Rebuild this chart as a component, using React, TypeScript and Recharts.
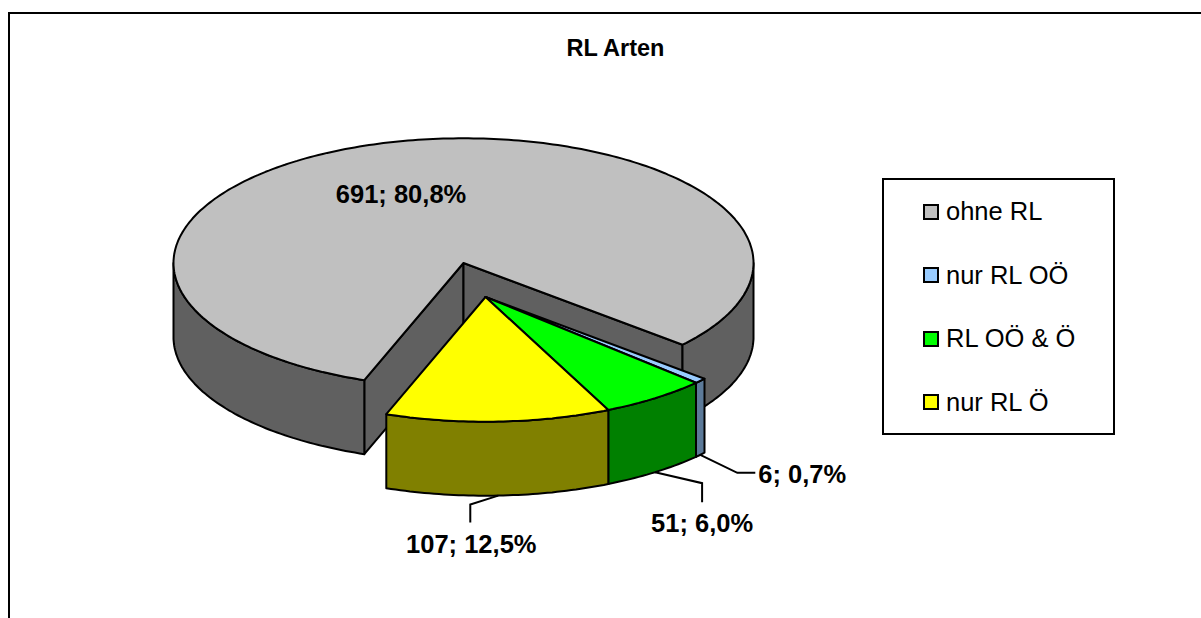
import { Legend, Pie, PieChart } from "recharts";

const NAMES = ["ohne RL", "nur RL OÖ", "RL OÖ & Ö", "nur RL Ö"];
const VALUES = [691, 6, 51, 107];
const TOP_COLORS = ["#c0c0c0", "#99ccff", "#00ff00", "#ffff00"];
const WALL_COLORS = ["#606060", "#5c7a99", "#008000", "#808000"];

const data = NAMES.map((name, i) => ({
  name,
  value: VALUES[i],
  fill: TOP_COLORS[i],
  wall: WALL_COLORS[i],
}));

const CX = 463.5;
const CY = 263;
const RADIUS = 290;
const SQUASH = 0.43; // ellipse height / width
const DEPTH = 74;
const START_ANGLE = -110;
// small slices are pulled out of the pie as one group
const EXPLODE_X = 22;
const EXPLODE_Y = 34;
const FONT = "'Liberation Sans', Arial, sans-serif";

// leader line elbows + label anchor, relative to the slice's lower edge
const LEADERS: Record<number, { pts: number[][]; tx: number; ty: number; anchor: string }> = {
  1: { pts: [[37, 18], [55, 18]], tx: 58, ty: 28, anchor: "start" },
  2: { pts: [[47, 11], [47, 30]], tx: 47, ty: 60, anchor: "middle" },
  3: { pts: [[-28, 9], [-28, 27]], tx: -27, ty: 57, anchor: "middle" },
};

const rad = (d: number) => (d * Math.PI) / 180;

const point = (cx: number, cy: number, r: number, deg: number) => [
  cx + r * Math.cos(rad(deg)),
  cy - r * SQUASH * Math.sin(rad(deg)),
];

const arcPoints = (cx: number, cy: number, r: number, from: number, to: number) => {
  const n = Math.max(2, Math.ceil(Math.abs(from - to)));
  const pts: number[][] = [];
  for (let i = 0; i <= n; i++) {
    pts.push(point(cx, cy, r, from + ((to - from) * i) / n));
  }
  return pts;
};

const toPath = (pts: number[][]) =>
  "M" + pts.map((p) => `${p[0].toFixed(1)},${p[1].toFixed(1)}`).join("L") + "Z";

const Slice3D = (props: any) => {
  const { cx, cy, outerRadius, startAngle, endAngle, fill, payload, index } = props;
  const x = cx + (index > 0 ? EXPLODE_X : 0);
  const y = cy + (index > 0 ? EXPLODE_Y : 0);
  const hi = Math.max(startAngle, endAngle);
  const lo = Math.min(startAngle, endAngle);
  const wall = payload?.wall ?? fill;
  const lineProps = { stroke: "#000", strokeWidth: 2, strokeLinejoin: "round" as const };

  // cut faces, only the ones turned towards the viewer
  const faces: number[][][] = [];
  [hi, lo].forEach((a) => {
    const visible = a === hi ? Math.cos(rad(a)) < 0 : Math.cos(rad(a)) > 0;
    if (!visible) return;
    const p = point(x, y, outerRadius, a);
    faces.push([[x, y], p, [p[0], p[1] + DEPTH], [x, y + DEPTH]]);
  });

  // outer wall: only the front half of the ellipse
  const walls: number[][][] = [];
  [[-180, 0], [-540, -360]].forEach(([a, b]) => {
    const from = Math.min(hi, b);
    const to = Math.max(lo, a);
    if (from <= to) return;
    const top = arcPoints(x, y, outerRadius, from, to);
    const bottom = top.map((p) => [p[0], p[1] + DEPTH]).reverse();
    walls.push([...top, ...bottom]);
  });

  const topFace = [[x, y], ...arcPoints(x, y, outerRadius, hi, lo)];

  return (
    <g>
      {faces.map((f, i) => (
        <path key={`f${i}`} d={toPath(f)} fill={wall} {...lineProps} />
      ))}
      {walls.map((w, i) => (
        <path key={`w${i}`} d={toPath(w)} fill={wall} {...lineProps} />
      ))}
      <path d={toPath(topFace)} fill={fill} {...lineProps} />
    </g>
  );
};

const renderLabel = (props: any) => {
  const { cx, cy, outerRadius, midAngle, value, percent, index } = props;
  const text = `${value}; ${(percent * 100).toFixed(1).replace(".", ",")}%`;
  const fontProps = {
    fontFamily: FONT,
    fontSize: 25.5,
    fontWeight: 700,
    fill: "#000",
  };
  const leader = LEADERS[index];
  if (!leader) {
    // big slice: label sits on the top face
    const p = point(cx, cy, outerRadius * 0.57, midAngle);
    return (
      <text x={p[0] - 21} y={p[1] + 9} textAnchor="middle" {...fontProps}>
        {text}
      </text>
    );
  }
  const edge = point(cx + EXPLODE_X, cy + EXPLODE_Y, outerRadius, midAngle);
  const sx = edge[0];
  const sy = edge[1] + DEPTH;
  const pts = [[sx, sy], ...leader.pts.map((o) => [sx + o[0], sy + o[1]])];
  return (
    <g>
      <polyline
        points={pts.map((p) => p.join(",")).join(" ")}
        fill="none"
        stroke="#000"
        strokeWidth={2}
      />
      <text x={sx + leader.tx} y={sy + leader.ty} textAnchor={leader.anchor as any} {...fontProps}>
        {text}
      </text>
    </g>
  );
};

const LegendBox = ({ payload }: any) => (
  <div
    style={{
      boxSizing: "border-box",
      width: 233,
      height: 257,
      border: "2px solid #000",
      background: "#fff",
      fontFamily: FONT,
      fontSize: 25.5,
      color: "#000",
    }}
  >
    {[...(payload ?? [])]
      .sort((a: any, b: any) => NAMES.indexOf(a.value) - NAMES.indexOf(b.value))
      .map((entry: any) => (
        <div
          key={entry.value}
          style={{ display: "flex", alignItems: "center", height: 63.5, paddingLeft: 39 }}
        >
          <span
            style={{
              boxSizing: "border-box",
              width: 16,
              height: 16,
              border: "2px solid #000",
              background: entry.color,
              marginRight: 7,
            }}
          />
          {entry.value}
        </div>
      ))}
  </div>
);

export default function App() {
  return (
    <div
      style={{
        position: "absolute",
        left: 0,
        top: 0,
        width: 1201,
        height: 618,
        overflow: "hidden",
        background: "#fff",
      }}
    >
      <div
        style={{
          position: "absolute",
          left: 8,
          top: 12,
          width: 1300,
          height: 700,
          border: "2px solid #000",
        }}
      />
      <PieChart
        width={1201}
        height={618}
        margin={{ top: 0, right: 0, bottom: 0, left: 0 }}
        style={{ position: "absolute", left: 0, top: 0 }}
      >
        <text
          x={615.5}
          y={56}
          textAnchor="middle"
          fontFamily={FONT}
          fontSize={23.5}
          fontWeight={700}
          fill="#000"
        >
          RL Arten
        </text>
        <Pie
          data={data}
          dataKey="value"
          nameKey="name"
          cx={CX}
          cy={CY}
          outerRadius={RADIUS}
          startAngle={START_ANGLE}
          endAngle={START_ANGLE - 360}
          paddingAngle={0}
          shape={Slice3D}
          label={renderLabel}
          labelLine={false}
          isAnimationActive={false}
        />
        <Legend
          content={<LegendBox />}
          wrapperStyle={{ position: "absolute", left: 882, top: 178, width: 233, height: 257, bottom: "auto", right: "auto" }}
        />
      </PieChart>
    </div>
  );
}
